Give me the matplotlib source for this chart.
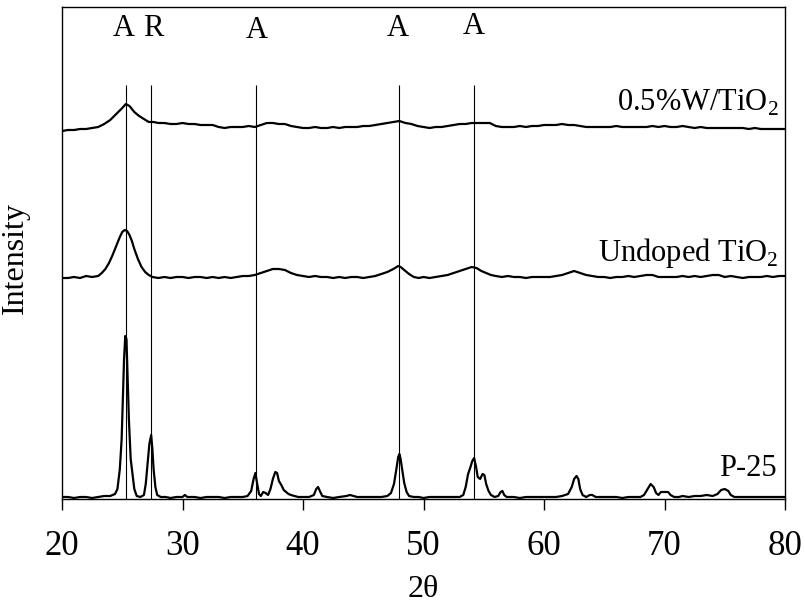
import matplotlib
matplotlib.use("Agg")
import matplotlib.pyplot as plt

plt.rcParams['font.family'] = ['Liberation Serif', 'DejaVu Serif']
plt.rcParams['mathtext.fontset'] = 'custom'
plt.rcParams['mathtext.rm'] = 'Liberation Serif'

# ---- data (2-theta, intensity in arbitrary stacked units) ----
p25_x = [20.0, 20.5, 21.0, 21.5, 22.0, 22.5, 23.0, 23.5, 24.0, 24.4, 24.6, 24.8, 24.95, 25.05, 25.15, 25.25,
         25.35, 25.45, 25.55, 25.7, 25.85, 26.0, 26.2, 26.5, 26.8, 26.95, 27.1, 27.25, 27.4, 27.5, 27.6, 27.75,
         27.9, 28.2, 28.6, 29.0, 29.5, 30.0, 30.2, 30.4, 31.0, 31.5, 32.0, 32.5, 33.0, 33.5, 34.0, 34.5, 35.0,
         35.4, 35.7, 35.9, 36.05, 36.2, 36.35, 36.5, 36.7, 36.9, 37.1, 37.3, 37.5, 37.7, 37.85, 38.0, 38.2, 38.4,
         38.6, 38.8, 39.0, 39.3, 39.6, 40.0, 40.5, 40.9, 41.1, 41.25, 41.4, 41.6, 42.0, 42.5, 43.0, 43.6, 43.9,
         44.2, 44.5, 45.0, 45.5, 46.0, 46.5, 47.0, 47.3, 47.55, 47.75, 47.9, 48.0, 48.1, 48.25, 48.4, 48.6, 48.8,
         49.2, 49.6, 50.0, 50.5, 51.0, 51.5, 52.0, 52.5, 53.0, 53.3, 53.5, 53.7, 53.9, 54.05, 54.2, 54.35, 54.5,
         54.7, 54.9, 55.05, 55.2, 55.4, 55.6, 55.9, 56.2, 56.4, 56.55, 56.7, 56.9, 57.5, 58.0, 58.5, 59.0, 59.5,
         60.0, 60.5, 61.0, 61.5, 62.0, 62.3, 62.5, 62.7, 62.85, 63.0, 63.2, 63.5, 63.8, 64.0, 64.3, 64.8, 65.5,
         66.0, 66.5, 67.0, 67.5, 68.0, 68.3, 68.6, 68.85, 69.1, 69.3, 69.5, 69.7, 70.0, 70.3, 70.5, 70.8, 71.2,
         71.5, 72.0, 72.5, 73.0, 73.5, 74.0, 74.4, 74.7, 75.0, 75.3, 75.5, 75.8, 76.5, 77.0, 77.5, 78.0, 78.5,
         79.0, 79.5, 80.0]
p25_y = [2, 2, 1, 2, 2, 1, 2, 3, 3, 5, 10, 30, 60, 100, 140, 163,
         160, 120, 80, 40, 25, 10, 3, 2, 4, 15, 35, 55, 64, 50, 30, 12,
         4, 2, 2, 1, 2, 2, 4, 2, 2, 1, 2, 2, 2, 1, 2, 2, 2,
         3, 8, 20, 26, 15, 5, 3, 7, 6, 4, 10, 20, 27, 26, 18, 14, 9,
         7, 5, 4, 3, 2, 2, 2, 4, 10, 12, 8, 3, 2, 1, 2, 3, 4,
         3, 2, 2, 2, 2, 2, 3, 6, 15, 30, 42, 45, 40, 28, 16, 7, 3,
         2, 2, 1, 2, 2, 2, 2, 2, 2, 4, 12, 25, 32, 38, 41, 33, 22,
         20, 25, 24, 15, 8, 4, 2, 3, 7, 8, 4, 2, 2, 1, 2, 2, 2,
         2, 2, 2, 3, 5, 12, 20, 23, 20, 10, 4, 2, 4, 4, 2, 2, 2,
         2, 1, 2, 2, 2, 4, 10, 15, 12, 6, 4, 7, 7, 7, 4, 2, 2,
         3, 2, 3, 3, 4, 3, 5, 9, 10, 8, 4, 2, 2, 2, 2, 2, 2,
         2, 2, 2]

undoped_x = [20.0, 20.5, 21.0, 21.5, 22.0, 22.5, 23.0, 23.3, 23.6, 23.9, 24.2, 24.5, 24.8, 25.0, 25.2, 25.4,
             25.6, 25.8, 26.0, 26.3, 26.6, 26.9, 27.2, 27.5, 28.0, 28.5, 29.0, 29.5, 30.0, 30.5, 31.0, 31.5,
             32.0, 32.5, 33.0, 33.5, 34.0, 34.5, 35.0, 35.5, 36.0, 36.5, 37.0, 37.5, 38.0, 38.5, 39.0, 39.5,
             40.0, 40.5, 41.0, 41.5, 42.0, 42.5, 43.0, 43.5, 44.0, 44.5, 45.0, 45.5, 46.0, 46.5, 47.0, 47.5,
             47.9, 48.1, 48.4, 48.8, 49.2, 49.6, 50.0, 50.5, 51.0, 51.5, 52.0, 52.5, 53.0, 53.5, 54.0, 54.4,
             54.8, 55.2, 55.6, 56.0, 56.5, 57.0, 57.5, 58.0, 58.5, 59.0, 59.5, 60.0, 60.5, 61.0, 61.5, 62.0,
             62.5, 63.0, 63.5, 64.0, 64.5, 65.0, 65.5, 66.0, 66.5, 67.0, 67.5, 68.0, 68.5, 69.0, 69.5, 70.0,
             70.5, 71.0, 71.5, 72.0, 72.5, 73.0, 73.5, 74.0, 74.5, 75.0, 75.5, 76.0, 76.5, 77.0, 77.5, 78.0,
             78.5, 79.0, 79.5, 80.0]
undoped_y = [221, 221, 222, 221, 223, 222, 223, 226, 230, 236, 244, 253, 262, 267, 269, 268,
             264, 258, 250, 240, 232, 227, 224, 222, 221, 222, 221, 222, 222, 221, 222, 222,
             221, 222, 221, 222, 221, 222, 223, 223, 224, 226, 228, 230, 230, 229, 226, 224,
             223, 222, 223, 222, 222, 221, 222, 221, 222, 222, 221, 222, 223, 225, 227, 230,
             233, 232, 229, 225, 222, 221, 222, 221, 222, 223, 224, 226, 228, 230, 232, 231,
             228, 226, 224, 223, 222, 223, 222, 222, 221, 222, 222, 222, 222, 223, 224, 226,
             228, 226, 224, 223, 222, 222, 221, 222, 222, 223, 222, 223, 224, 224, 222, 222,
             222, 222, 223, 222, 223, 222, 223, 224, 224, 222, 223, 222, 221, 222, 222, 222,
             223, 222, 223, 223]

w_x = [20.0, 20.5, 21.0, 21.5, 22.0, 22.5, 23.0, 23.5, 24.0, 24.5, 25.0, 25.3, 25.6, 26.0, 26.4, 26.8,
       27.2, 27.6, 28.0, 28.5, 29.0, 29.5, 30.0, 30.5, 31.0, 31.5, 32.0, 32.5, 33.0, 33.5, 34.0, 34.5,
       35.0, 35.5, 36.0, 36.5, 37.0, 37.5, 38.0, 38.5, 39.0, 39.5, 40.0, 40.5, 41.0, 41.5, 42.0, 42.5,
       43.0, 43.5, 44.0, 44.5, 45.0, 45.5, 46.0, 46.5, 47.0, 47.5, 48.0, 48.5, 49.0, 49.5, 50.0, 50.5,
       51.0, 51.5, 52.0, 52.5, 53.0, 53.5, 54.0, 54.5, 55.0, 55.5, 56.0, 56.5, 57.0, 57.5, 58.0, 58.5,
       59.0, 59.5, 60.0, 60.5, 61.0, 61.5, 62.0, 62.5, 63.0, 63.5, 64.0, 64.5, 65.0, 65.5, 66.0, 66.5,
       67.0, 67.5, 68.0, 68.5, 69.0, 69.5, 70.0, 70.5, 71.0, 71.5, 72.0, 72.5, 73.0, 73.5, 74.0, 74.5,
       75.0, 75.5, 76.0, 76.5, 77.0, 77.5, 78.0, 78.5, 79.0, 79.5, 80.0]
w_y = [368, 369, 369, 370, 370, 371, 372, 375, 379, 385, 391, 395, 393, 387, 383, 380,
       377, 377, 376, 376, 375, 375, 376, 375, 375, 374, 374, 374, 372, 371, 372, 372,
       372, 373, 372, 374, 376, 376, 375, 375, 373, 372, 371, 371, 372, 371, 371, 372,
       371, 372, 372, 372, 373, 373, 374, 375, 376, 377, 378, 376, 375, 373, 372, 371,
       372, 372, 373, 374, 375, 375, 376, 376, 376, 376, 373, 372, 372, 372, 373, 372,
       373, 373, 374, 374, 374, 375, 374, 374, 373, 372, 372, 372, 372, 372, 373, 372,
       372, 372, 372, 372, 373, 372, 373, 372, 372, 373, 372, 371, 372, 371, 371, 371,
       371, 371, 371, 371, 370, 371, 370, 370, 370, 370, 370]

peak_pos = [25.3, 27.4, 36.1, 48.0, 54.2]
peak_lab = ['A', 'R', 'A', 'A', 'A']
peak_lab_x = [25.1, 27.6, 36.2, 47.9, 54.2]
peak_lab_y = [470, 470, 468, 470, 473]

series_names = ['0.5%W/TiO$_2$', 'Undoped TiO$_2$', 'P-25']

# ---- figure ----
fig = plt.figure(figsize=(8.05, 6.10), dpi=100)
ax = fig.add_axes([62/805, 1 - 499/610, (785-62)/805, (499-7)/610])

for xs, ys in [(w_x, w_y), (undoped_x, undoped_y), (p25_x, p25_y)]:
    ax.plot(xs, ys, color='black', lw=1.6)

for p, lx, lab, ly in zip(peak_pos, peak_lab_x, peak_lab, peak_lab_y):
    ax.vlines(p, 0, 414, color='black', lw=0.8)
    ax.text(lx, ly, lab, ha='center', va='center', fontsize=22)

ax.text(79.5, 396, series_names[0], ha='right', va='center', fontsize=22)
ax.text(79.5, 246, series_names[1], ha='right', va='center', fontsize=22)
ax.text(79.3, 31, series_names[2], ha='right', va='center', fontsize=22)

ax.set_xlim(20, 80)
ax.set_ylim(0, 492)
ax.set_xticks([20, 30, 40, 50, 60, 70, 80])
ax.set_yticks([])
ax.tick_params(axis='x', direction='out', length=8, width=1, labelsize=25, pad=14)
for s in ax.spines.values():
    s.set_linewidth(1.0)

ax.set_xlabel('2θ', fontsize=23)
ax.set_ylabel('Intensity', fontsize=23)
ax.xaxis.set_label_coords(0.5, -0.155)
ax.yaxis.set_label_coords(-0.045, 0.49)

fig.savefig('out.png', dpi=100)
